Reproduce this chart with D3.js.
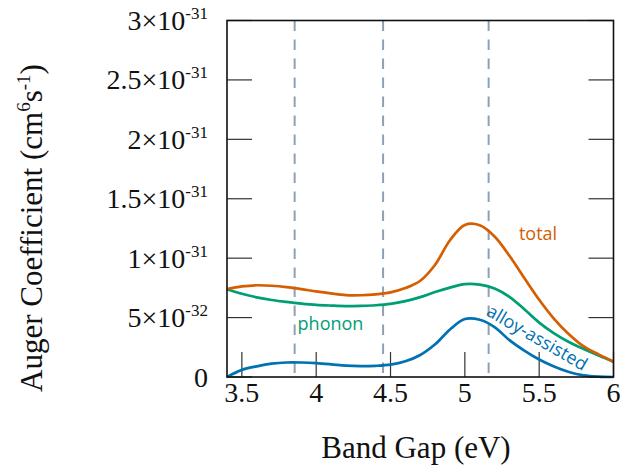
<!DOCTYPE html>
<html><head><meta charset="utf-8">
<script src="https://cdn.jsdelivr.net/npm/d3@7"></script>
<style>body{margin:0;background:#fff;} svg{display:block;}</style>
</head><body>
<svg id="chart" width="622" height="474"></svg>
<script>
const bandGap = [3.4,3.5,3.6,3.7,3.8,3.9,4.0,4.1,4.2,4.3,4.4,4.5,4.6,4.7,4.8,4.9,5.0,5.1,5.2,5.3,5.4,5.5,5.6,5.7,5.8,5.9,6.0];
// values in units of 1e-31 cm^6 s^-1
const total  = [0.739,0.762,0.772,0.768,0.757,0.74,0.72,0.703,0.689,0.688,0.695,0.712,0.748,0.81,0.945,1.151,1.28,1.277,1.183,1.02,0.833,0.65,0.49,0.36,0.257,0.19,0.129];
const phonon = [0.739,0.70,0.67,0.648,0.632,0.618,0.607,0.601,0.597,0.599,0.604,0.615,0.638,0.672,0.715,0.752,0.782,0.778,0.745,0.675,0.57,0.458,0.368,0.295,0.235,0.18,0.129];
const alloy  = [0.0,0.06,0.09,0.112,0.122,0.122,0.117,0.107,0.095,0.091,0.094,0.104,0.132,0.185,0.275,0.40,0.488,0.482,0.42,0.31,0.222,0.147,0.088,0.042,0.014,0.003,0.0];
const dashedX = [3.855, 4.45, 5.16];
const xTicks = [3.5,4,4.5,5,5.5,6];
const xTickLabels = ["3.5","4","4.5","5","5.5","6"];
const yTicks = [0,0.5,1,1.5,2,2.5,3];
const yTickMant = ["0","5","1","1.5","2","2.5","3"];
const yTickExp = [null,"-32","-31","-31","-31","-31","-31"];

const svg = d3.select("#chart");
const L=227, R=613.5, T=20.5, B=377;
const x = d3.scaleLinear().domain([3.4,6]).range([L,R]);
const y = d3.scaleLinear().domain([0,3]).range([B,T]);
const serif = "'Liberation Serif','DejaVu Serif',serif";
const sans = "'Open Sans','Noto Sans',sans-serif";

// dashed verticals
svg.selectAll("line.dash").data(dashedX).enter().append("line")
  .attr("x1",d=>x(d)).attr("x2",d=>x(d)).attr("y1",T).attr("y2",B)
  .attr("stroke","#8ea1b3").attr("stroke-width",2).attr("stroke-dasharray","10.5,8.5");

// ticks
const tickCol="#333";
svg.selectAll("line.xt").data(xTicks).enter().append("line")
  .attr("x1",d=>x(d)).attr("x2",d=>x(d)).attr("y1",B).attr("y2",B-25)
  .attr("stroke",tickCol).attr("stroke-width",1.2);
svg.selectAll("line.ytl").data(yTicks).enter().append("line")
  .attr("x1",L).attr("x2",L+25).attr("y1",d=>y(d)).attr("y2",d=>y(d))
  .attr("stroke",tickCol).attr("stroke-width",1.2);
svg.selectAll("line.ytr").data(yTicks).enter().append("line")
  .attr("x1",R-25).attr("x2",R).attr("y1",d=>y(d)).attr("y2",d=>y(d))
  .attr("stroke",tickCol).attr("stroke-width",1.2);

// curves
const series = [
  {vals: phonon, color:"#009E73"},
  {vals: total, color:"#D55E00"},
  {vals: alloy, color:"#0072B2"}
];
const line = d3.line().x((d,i)=>x(bandGap[i])).y(d=>y(d)).curve(d3.curveCatmullRom.alpha(0.5));
series.forEach(s=>{
  svg.append("path").attr("d",line(s.vals)).attr("fill","none")
    .attr("stroke",s.color).attr("stroke-width",2.7);
});

// frame
svg.append("rect").attr("x",L).attr("y",T).attr("width",R-L).attr("height",B-T)
  .attr("fill","none").attr("stroke","#111").attr("stroke-width",1.6);

// x tick labels
xTicks.forEach((v,i)=>{
  svg.append("text").attr("x",x(v)).attr("y",402).attr("text-anchor","middle")
    .style("font-family",serif).style("font-size","28px").attr("fill","#111")
    .text(xTickLabels[i]);
});

// y tick labels
yTicks.forEach((v,i)=>{
  const t = svg.append("text").attr("x",208).attr("y",y(v)+9.5).attr("text-anchor","end")
    .style("font-family",serif).style("font-size","28px").attr("fill","#111");
  if (yTickExp[i]) {
    t.append("tspan").text(yTickMant[i]+"×10");
    t.append("tspan").attr("dy",-11).style("font-size","17px").text(yTickExp[i]);
  } else {
    t.text(yTickMant[i]);
  }
});

// axis titles
svg.append("text").attr("x",416).attr("y",458).attr("text-anchor","middle")
  .style("font-family",serif).style("font-size","31px").attr("fill","#111").text("Band Gap (eV)");
const yt = svg.append("text").attr("transform","translate(42,228) rotate(-90)")
  .attr("text-anchor","middle").style("font-family",serif).style("font-size","31px").attr("fill","#111");
yt.append("tspan").text("Auger Coefficient (cm");
yt.append("tspan").attr("dy",-12).style("font-size","19px").text("6");
yt.append("tspan").attr("dy",12).text("s");
yt.append("tspan").attr("dy",-12).style("font-size","19px").text("-1");
yt.append("tspan").attr("dy",12).text(")");

// curve labels
svg.append("text").attr("x",538).attr("y",240).attr("text-anchor","middle")
  .style("font-family",sans).style("font-size","18px").attr("fill","#D55E00").text("total");
svg.append("text").attr("x",330.5).attr("y",329.5).attr("text-anchor","middle")
  .style("font-family",sans).style("font-size","18px").attr("fill","#009E73").text("phonon");
svg.append("text").attr("transform","translate(534,343) rotate(30)").attr("text-anchor","middle")
  .style("font-family",sans).style("font-size","18px").attr("fill","#0072B2").text("alloy-assisted");
</script>
</body></html>
